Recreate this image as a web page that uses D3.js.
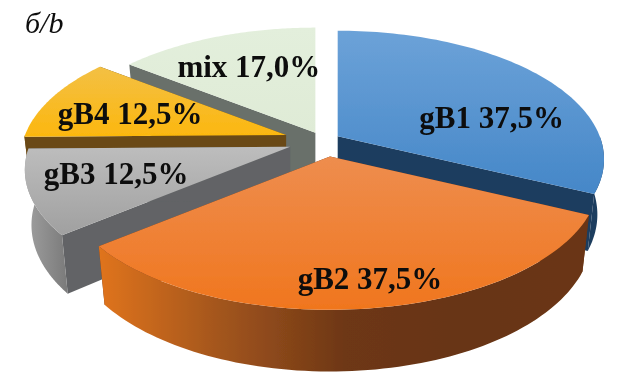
<!DOCTYPE html>
<html>
<head>
<meta charset="utf-8">
<script src="https://cdn.jsdelivr.net/npm/d3@7"></script>
<style>
  html, body { margin: 0; padding: 0; background: #fff; }
  svg { display: block; }
  text { font-family: "Liberation Serif", serif; fill: #0c0c0c; }
</style>
</head>
<body>
<div id="my_chart"></div>
<script>
// data
const categories = ["gB1", "gB2", "gB3", "gB4", "mix"];
const values = [37.5, 37.5, 12.5, 12.5, 17.0];
const valueLabels = ["37,5%", "37,5%", "12,5%", "12,5%", "17,0%"];

// slice styling
const topColors = [["#6ca2d8", "#4587c8"], ["#ee8d4e", "#f0761e"], ["#bdbdbd", "#a0a0a0"], ["#f3c044", "#fcb70f"], ["#e3efdc", "#dfebd6"]];
const rimColors = [["#1d3b5c", "#1f4163"], ["#e0741f", "#a2551f", "#6e3714", "#673413", "#6b3512"], ["#a0a0a0", "#7a7a7a"], ["#6b4a16", "#6b4a16"], ["#69706a", "#69706a"]];
const cutColors = ["#1f3d5e", "#6a3414", "#626466", "#6b4a16", "#69706a"];

// layout
const width = 632, height = 387;
const cx = 324, cy = 141;
const explode = [15, 33, 36, 40, 23];
const nudge = [[1, -1], [2, 0], [0, 0], [0, 0], [1.5, 1.5]];
const sliceRadius = [262, 264.5, 261, 261, 261];
const labelShift = [[155, -19], [42, 123], [-174, 27], [-156, -21], [-65, -64]];
const drawOrder = [4, 3, 2, 0, 1];

// 3d look of the pie
const squash = 124 / 261, persp = 0.18, depth = 54, depthScaleX = 0.975, depthScaleY = 1.05;

const svg = d3.select("#my_chart").append("svg")
    .attr("width", width)
    .attr("height", height);

const defs = svg.append("defs");
const blur = defs.append("filter").attr("id", "soft");
blur.append("feGaussianBlur").attr("stdDeviation", 0.45);

const slices = d3.pie().sort(null).value(d => d)(values);

// project a point of the disc rim, a is clockwise from 12 o'clock
function project(a, rad) {
    const p = 1 / (1 + persp * Math.cos(a));
    return [rad * Math.sin(a) * p, -rad * squash * Math.cos(a) * p];
}
const lower = q => [q[0] * depthScaleX, q[1] * depthScaleY + depth];
const line = d3.line();

function arcPoints(a0, a1, rad) {
    return d3.range(0, 81).map(i => project(a0 + (a1 - a0) * i / 80, rad));
}

function gradient(id, dir, colors) {
    const g = defs.append("linearGradient").attr("id", id)
        .attr("x1", 0).attr("y1", 0)
        .attr("x2", dir == "h" ? 1 : 0).attr("y2", dir == "h" ? 0 : 1);
    colors.forEach(function(c, k) {
        g.append("stop").attr("offset", k / (colors.length - 1)).attr("stop-color", c);
    });
}

const chart = svg.append("g").attr("filter", "url(#soft)");

drawOrder.forEach(function(i) {
    const d = slices[i];
    const mid = (d.startAngle + d.endAngle) / 2;
    const rad = sliceRadius[i];
    const off = [explode[i] * Math.sin(mid) + nudge[i][0], -explode[i] * squash * Math.cos(mid) + nudge[i][1]];
    const g = chart.append("g").attr("transform", `translate(${cx + off[0]}, ${cy + off[1]})`);

    gradient("top" + i, "v", topColors[i]);
    gradient("rim" + i, "h", rimColors[i]);

    // cut faces
    [d.startAngle, d.endAngle].forEach(function(a) {
        const q = project(a, rad);
        g.append("path")
            .attr("d", line([[0, 0], q, lower(q), lower([0, 0])]) + "Z")
            .attr("fill", cutColors[i]);
    });

    // outer wall, only the front half shows
    const a0 = Math.max(d.startAngle, Math.PI / 2), a1 = Math.min(d.endAngle, Math.PI * 1.5);
    if (a1 > a0) {
        const pts = arcPoints(a0, a1, rad);
        g.append("path")
            .attr("d", line(pts.concat(pts.map(lower).reverse())) + "Z")
            .attr("fill", `url(#rim${i})`);
    }

    // top face
    g.append("path")
        .attr("d", line([[0, 0]].concat(arcPoints(d.startAngle, d.endAngle, rad))) + "Z")
        .attr("fill", `url(#top${i})`);
});

// labels go on top of all slices
drawOrder.forEach(function(i) {
    const d = slices[i];
    const mid = (d.startAngle + d.endAngle) / 2;
    chart.append("text")
        .attr("x", cx + explode[i] * Math.sin(mid) + labelShift[i][0])
        .attr("y", cy - explode[i] * squash * Math.cos(mid) + labelShift[i][1])
        .attr("dy", "0.32em")
        .attr("text-anchor", "middle")
        .attr("font-weight", "bold")
        .attr("font-size", 31)
        .text(categories[i] + " " + valueLabels[i]);
});

chart.append("text")
    .attr("x", 25)
    .attr("y", 33)
    .attr("font-style", "italic")
    .attr("font-size", 30)
    .text("б/b");
</script>
</body>
</html>
